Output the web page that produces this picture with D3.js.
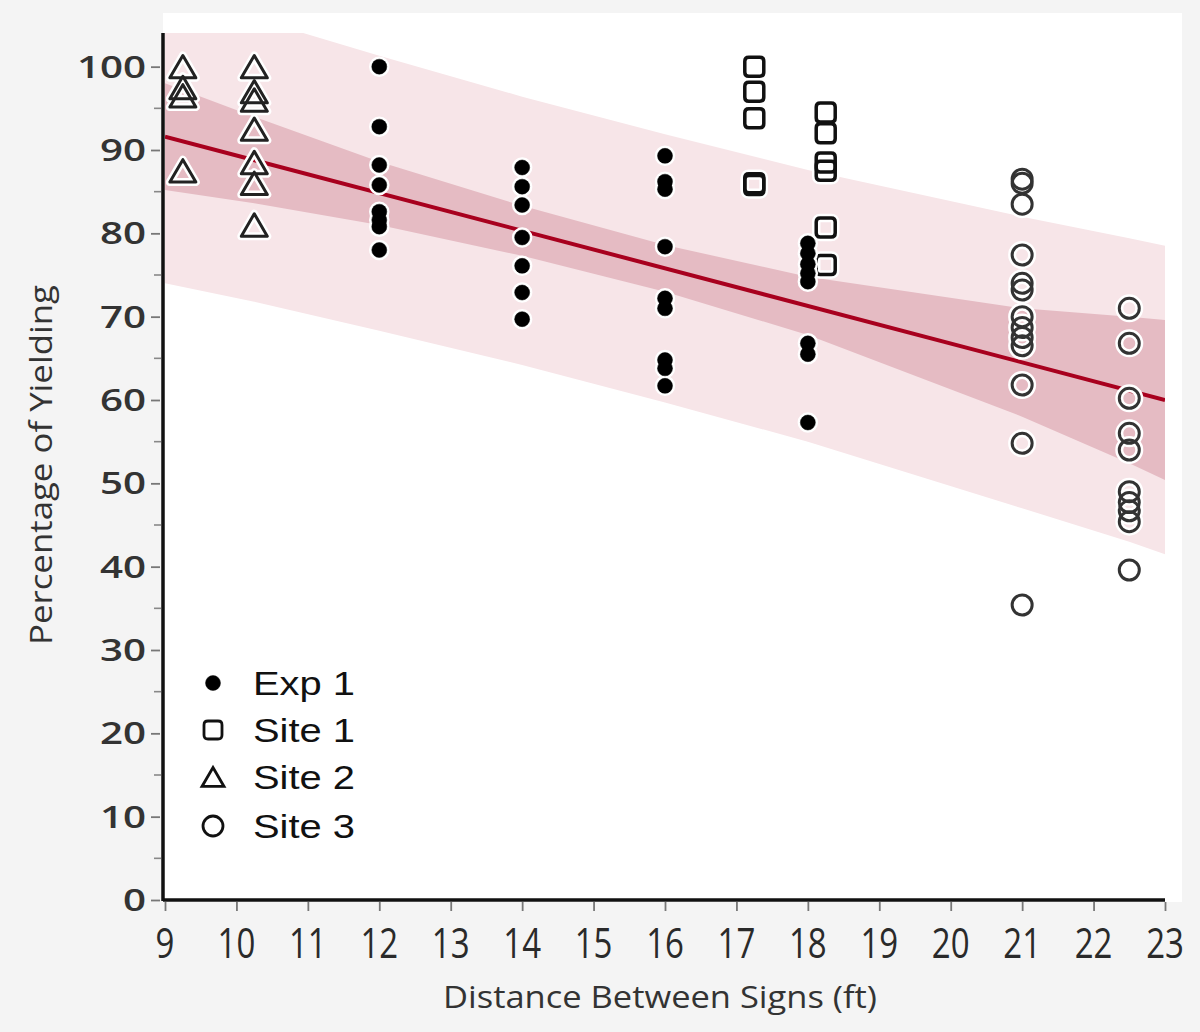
<!DOCTYPE html>
<html><head><meta charset="utf-8">
<script src="https://cdn.jsdelivr.net/npm/d3@7"></script>
<style>
html,body{margin:0;padding:0;background:#f4f4f4;}
svg{display:block;}
</style></head>
<body>
<svg id="chart" width="1200" height="1032"></svg>
<script>
// ---- data ----
const exp1Dist  = [12,12,12,12,12,12,12,12, 14,14,14,14,14,14,14, 16,16,16,16,16,16,16,16,16, 18,18,18,18,18,18,18,18];
const exp1Yield = [100,92.8,88.2,85.8,82.6,81.6,80.8,78.0, 87.9,85.6,83.4,79.5,76.1,72.9,69.7, 89.3,86.2,85.3,78.4,72.2,71.0,64.8,63.8,61.7, 78.8,77.6,76.3,75.2,74.2,66.8,65.5,57.3];
const site1Dist  = [17.25,17.25,17.25,17.25,17.25, 18.25,18.25,18.25,18.25,18.25,18.25];
const site1Yield = [100,97,93.8,86,85.8, 94.5,92,88.5,87.5,80.7,76.2];
const site2Dist  = [9.25,9.25,9.25,9.25, 10.25,10.25,10.25,10.25,10.25,10.25,10.25];
const site2Yield = [100,97.5,96.5,87.5, 100,97,96,92.5,88.5,86,81];
const site3Dist  = [21,21,21,21,21,21,21,21,21,21,21,21,21, 22.5,22.5,22.5,22.5,22.5,22.5,22.5,22.5,22.5,22.5];
const site3Yield = [86.5,86,83.5,77.4,74,73.2,70,68.7,67.5,66.5,61.8,54.8,35.4, 71,66.8,60.2,56,54,49,47.7,46.7,45.4,39.6];

// fitted line and bands
const fitDist  = [9, 23];
const fitYield = [91.6, 60.0];
const bandDist = [9, 10.25, 12, 14, 16, 18, 21, 22.5, 23];
const ciLow    = [85.2, 83.6, 81.0, 77.3, 73.0, 67.8, 58.0, 52.4, 50.4];
const ciHigh   = [98.0, 94.0, 88.6, 83.3, 78.6, 74.8, 71.0, 70.0, 69.6];
const piLow    = [74.0, 71.8, 68.3, 64.2, 59.7, 55.0, 47.0, 43.0, 41.5];
const piHigh   = [109.2,105.8,101.3, 96.4, 91.9, 87.6, 82.0, 79.4, 78.5];

const xTicks = [9,10,11,12,13,14,15,16,17,18,19,20,21,22,23];
const yTicks = [0,10,20,30,40,50,60,70,80,90,100];
const yMinor = [5,15,25,35,45,55,65,75,85,95];
const legendLabels = ["Exp 1","Site 1","Site 2","Site 3"];
const xTitle = "Distance Between Signs (ft)";
const yTitle = "Percentage of Yielding";

// ---- drawing ----
const svg = d3.select("#chart");
const L = 165, R = 1165, T = 33, B = 900;
const x = d3.scaleLinear().domain([9, 23]).range([L, R]);
const y = d3.scaleLinear().domain([0, 104.04]).range([B, T]);

// white panel
svg.append("rect").attr("x", 163).attr("y", 13).attr("width", 1019).attr("height", 889).attr("fill", "#ffffff");

svg.append("defs").append("clipPath").attr("id","clip")
  .append("rect").attr("x", L).attr("y", T).attr("width", R-L).attr("height", B-T);

const plot = svg.append("g").attr("clip-path","url(#clip)");
const idx = d3.range(bandDist.length);
const area = (lo, hi) => d3.area().x(i => x(bandDist[i])).y0(i => y(lo[i])).y1(i => y(hi[i]));
plot.append("path").datum(idx).attr("d", area(piLow, piHigh)).attr("fill", "#f7e5e8");
plot.append("path").datum(idx).attr("d", area(ciLow, ciHigh)).attr("fill", "#e5bbc3");
plot.append("path").datum([0,1])
  .attr("d", d3.line().x(i => x(fitDist[i])).y(i => y(fitYield[i])))
  .attr("fill","none").attr("stroke","#a8001e").attr("stroke-width",4);

// axes
const gx = svg.append("g").attr("transform", `translate(0,${B})`)
  .call(d3.axisBottom(x).tickValues(xTicks).tickSize(11).tickFormat(""));
gx.select(".domain").attr("stroke","#111").attr("stroke-width",3.5).attr("d", `M${L-2},0H${R}`);
gx.selectAll(".tick line").attr("stroke","#777").attr("stroke-width",1.8).attr("y1",2);

const gy = svg.append("g").attr("transform", `translate(${L-2},0)`)
  .call(d3.axisLeft(y).tickValues(yTicks).tickSize(12).tickFormat(""));
gy.select(".domain").attr("stroke","#111").attr("stroke-width",3.5).attr("d", `M0,${T}V${B+1}`);
gy.selectAll(".tick line").attr("stroke","#777").attr("stroke-width",1.8).attr("x1",-3);
svg.append("g").selectAll("line").data(yMinor).join("line")
  .attr("x1", L-11).attr("x2", L-4).attr("y1", d => y(d)).attr("y2", d => y(d))
  .attr("stroke","#888").attr("stroke-width",1.6);

// tick labels
svg.append("g").selectAll("text").data(xTicks).join("text")
  .attr("transform", d => `translate(${x(d)},${958}) scale(1,1.25)`)
  .attr("text-anchor","middle").attr("font-family","'Open Sans'").attr("font-size",33)
  .attr("fill","#2a2a2a").text(d => d);
svg.append("g").selectAll("text").data(yTicks).join("text")
  .attr("transform", d => `translate(${146},${y(d)+11}) scale(1.3,1)`)
  .attr("text-anchor","end").attr("font-family","'Open Sans'").attr("font-weight",600).attr("font-size",31)
  .attr("fill","#333").text(d => d);

// titles
svg.append("text").attr("x", 443).attr("y", 1008).attr("font-family","'Open Sans'").attr("font-size",31)
  .attr("textLength", 434).attr("lengthAdjust","spacingAndGlyphs").attr("fill","#333").text(xTitle);
svg.append("text").attr("transform","translate(52,645) rotate(-90)").attr("font-family","'Open Sans'").attr("font-size",31)
  .attr("textLength", 360).attr("lengthAdjust","spacingAndGlyphs").attr("fill","#333").text(yTitle);

// markers
const haloW = 5;
function tri(s){ const w=s, h=s*0.86; return `M0,${-h/2}L${w/2},${h/2}L${-w/2},${h/2}Z`; }
function sq(s){ const a=s/2, r=4; return `M${-a+r},${-a}H${a-r}Q${a},${-a} ${a},${-a+r}V${a-r}Q${a},${a} ${a-r},${a}H${-a+r}Q${-a},${a} ${-a},${a-r}V${-a+r}Q${-a},${-a} ${-a+r},${-a}Z`; }
function circ(r){ return d3.arc()({innerRadius:0,outerRadius:r,startAngle:0,endAngle:2*Math.PI}); }

function drawSet(dist, vals, shapeD, style){
  const pts = d3.range(dist.length);
  const g = svg.append("g");
  g.selectAll("path.halo").data(pts).join("path").attr("class","halo")
    .attr("d", shapeD).attr("transform", i => `translate(${x(dist[i])},${y(vals[i])})`)
    .attr("fill", style.fill === "none" ? "none" : "#fff").attr("stroke","#fff")
    .attr("stroke-width", style.sw + haloW).attr("stroke-linejoin","round");
  g.selectAll("path.mk").data(pts).join("path").attr("class","mk")
    .attr("d", shapeD).attr("transform", i => `translate(${x(dist[i])},${y(vals[i])})`)
    .attr("fill", style.fill).attr("stroke", style.stroke).attr("stroke-width", style.sw).attr("stroke-linejoin","round");
}
drawSet(site2Dist, site2Yield, tri(26), {fill:"none", stroke:"#222", sw:3});
drawSet(site1Dist, site1Yield, sq(19), {fill:"none", stroke:"#111", sw:3.5});
drawSet(site3Dist, site3Yield, circ(10), {fill:"none", stroke:"#333", sw:3});
drawSet(exp1Dist, exp1Yield, circ(7.5), {fill:"#000", stroke:"#000", sw:0.5});

// legend
const legY = [683, 730, 777, 826];
const legShapes = [circ(7.5), sq(18), tri(22), circ(10)];
const lg = svg.append("g");
legendLabels.forEach((lab, i) => {
  lg.append("path").attr("d", legShapes[i]).attr("transform", `translate(213,${legY[i]})`)
    .attr("fill", i === 0 ? "#000" : "none").attr("stroke", "#111").attr("stroke-width", i === 0 ? 0.5 : 2.8);
  lg.append("text").attr("x", 253).attr("y", legY[i] + 12).attr("font-family","'Liberation Sans', Arial")
    .attr("font-size", 33).attr("textLength", 102).attr("lengthAdjust","spacingAndGlyphs")
    .attr("fill","#111").text(lab);
});
</script>
</body></html>
